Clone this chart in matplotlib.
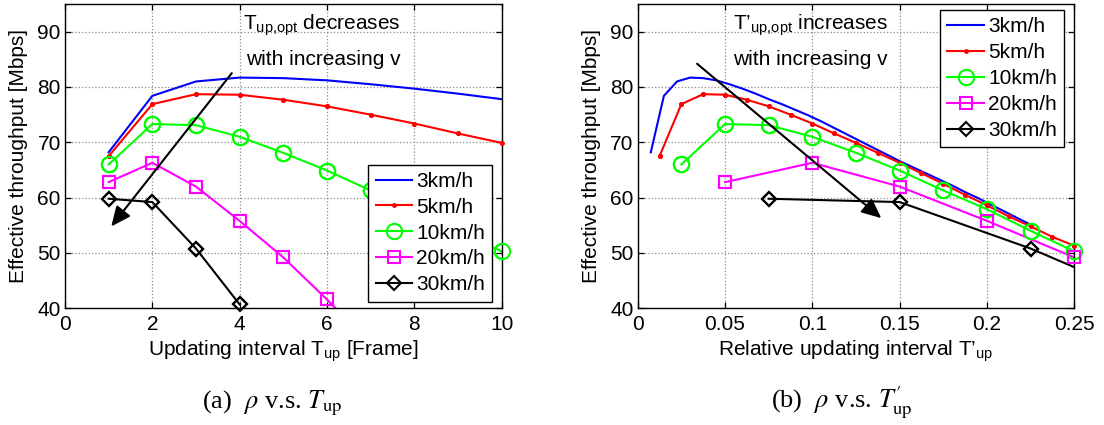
import matplotlib
matplotlib.use("Agg")
import matplotlib.pyplot as plt
import numpy as np

FS = 15
plt.rcParams['font.family'] = ['Liberation Sans', 'DejaVu Sans']
plt.rcParams['mathtext.fontset'] = 'custom'
plt.rcParams['mathtext.rm'] = 'Liberation Sans'
plt.rcParams['mathtext.it'] = 'Liberation Sans:italic'
plt.rcParams['mathtext.bf'] = 'Liberation Sans:bold'
plt.rcParams['font.size'] = FS

# effective throughput [Mbps] vs updating interval T_up [frames], per speed
t_3 = list(range(1, 31))
rho_3 = [68.2, 78.4, 81.0, 81.7, 81.6, 81.2, 80.5, 79.7, 78.8, 77.8,
         76.9, 75.9, 74.9, 73.8, 72.6, 71.4, 70.2, 69.0, 67.8, 66.6,
         65.5, 64.4, 63.3, 62.2, 61.0, 59.9, 58.7, 57.5, 56.3, 55.1]
t_5 = list(range(1, 21))
rho_5 = [67.5, 76.9, 78.7, 78.6, 77.7, 76.5, 75.0, 73.4, 71.6, 69.9,
         68.1, 66.3, 64.4, 62.5, 60.5, 58.6, 56.6, 54.8, 52.9, 51.3]
t_10 = list(range(1, 11))
rho_10 = [66.0, 73.3, 73.1, 71.0, 68.1, 64.9, 61.3, 57.9, 54.0, 50.3]
t_20 = list(range(1, 8))
rho_20 = [62.8, 66.3, 62.0, 55.8, 49.2, 41.6, 33.6]
t_30 = list(range(1, 5))
rho_30 = [59.8, 59.2, 50.8, 40.7]

speeds = [3, 5, 10, 20, 30]
labels = ['3km/h', '5km/h', '10km/h', '20km/h', '30km/h']
T_all = [t_3, t_5, t_10, t_20, t_30]
R_all = [rho_3, rho_5, rho_10, rho_20, rho_30]
# relative interval T' = T * v * 0.0025
rel_factor = 0.0025

styles = [dict(color='b', marker=None),
          dict(color='r', marker='.', ms=5),
          dict(color=(0, 1, 0), marker='o', ms=11, mfc='none', mew=1.5),
          dict(color=(1, 0, 1), marker='s', ms=8.5, mfc='none', mew=1.5),
          dict(color='k', marker='D', ms=7.5, mfc='none', mew=1.5)]

W, H = 1104, 425
fig = plt.figure(figsize=(W / 100, H / 100), dpi=100)
ax1 = fig.add_axes([65 / W, 1 - 308.3 / H, 436.6 / W, 304.3 / H])
ax2 = fig.add_axes([637.7 / W, 1 - 308.3 / H, 436.6 / W, 304.3 / H])
xlims = {ax1: (0, 10), ax2: (0, 0.25)}

for ax, rel in [(ax1, False), (ax2, True)]:
    lo, hi = xlims[ax]
    for T, R, v, lab, st in zip(T_all, R_all, speeds, labels, styles):
        x = np.array(T, dtype=float)
        if rel:
            x = x * v * rel_factor
        y = np.array(R)
        ax.plot(x, y, lw=1.5, label=lab, **st)
        # markers sitting on the frame are not clipped
        if st['marker'] is not None:
            keep = (x >= lo - 1e-9) & (x <= hi + 1e-9) & (y >= 40)
            ax.plot(x[keep], y[keep], ls='none', clip_on=False, zorder=3, **st)
    ax.set_xlim(lo, hi)
    ax.set_ylim(40, 95)
    ax.set_yticks([40, 50, 60, 70, 80, 90])
    ax.grid(True, ls=':', color='0.55', lw=0.9)
    ax.tick_params(direction='in', top=True, right=True, length=4, width=0.9,
                   labelsize=FS)
    ax.tick_params(axis='x', pad=5)
    ax.tick_params(axis='y', pad=3)
    for s in ax.spines.values():
        s.set_linewidth(1.0)
    ax.set_ylabel('Effective throughput [Mbps]', fontsize=FS)
    ax.yaxis.set_label_coords(-0.085, 0.5)

ax1.set_xticks([0, 2, 4, 6, 8, 10])
ax1.set_xlabel(r'Updating interval T$_{\mathrm{up}}$ [Frame]', fontsize=FS)
ax1.xaxis.set_label_coords(0.5, -0.1)

ax2.set_xticks([0, 0.05, 0.1, 0.15, 0.2, 0.25])
ax2.set_xticklabels(['0', '0.05', '0.1', '0.15', '0.2', '0.25'])
ax2.set_xlabel(r'Relative updating interval T’$_{\mathrm{up}}$', fontsize=FS)
ax2.xaxis.set_label_coords(0.5, -0.1)

leg_kw = dict(fontsize=FS, fancybox=False, edgecolor='k', framealpha=1,
              borderaxespad=0, handlelength=1.75, handletextpad=0.2,
              labelspacing=0.33, borderpad=0.35)
l1 = ax1.legend(loc='lower right', bbox_to_anchor=(0.979, 0.022), **leg_kw)
l2 = ax2.legend(loc='upper right', bbox_to_anchor=(0.977, 0.98), **leg_kw)
for l in (l1, l2):
    l.get_frame().set_linewidth(1.0)

# annotations
arrow = dict(arrowstyle='-|>,head_length=0.6,head_width=0.27', color='k',
             lw=1.5, shrinkA=0, shrinkB=0, mutation_scale=20)
ax1.annotate('', xy=(1.06, 54.8), xytext=(3.82, 82.5), arrowprops=arrow)
ax1.text(5.88, 90.3, r'T$_{\mathrm{up{,}opt}}$ decreases', ha='center', va='baseline')
ax1.text(5.92, 84.05, 'with increasing v', ha='center', va='baseline')

ax2.annotate('', xy=(0.1395, 56.3), xytext=(0.034, 84.2), arrowprops=arrow)
ax2.text(0.099, 90.3, r'T’$_{\mathrm{up{,}opt}}$ increases', ha='center', va='baseline')
ax2.text(0.099, 84.05, 'with increasing v', ha='center', va='baseline')

# sub captions
cap = dict(ha='center', va='center', fontsize=19, family='Liberation Serif',
           math_fontfamily='stix')
fig.text(272 / W, 1 - 403 / H, r'(a)  $\rho$ v.s. $T_{\mathrm{up}}$', **cap)
fig.text(842 / W, 1 - 403 / H, r"(b)  $\rho$ v.s. $T^{\prime}_{\mathrm{up}}$", **cap)

fig.savefig('out.png', dpi=100)
